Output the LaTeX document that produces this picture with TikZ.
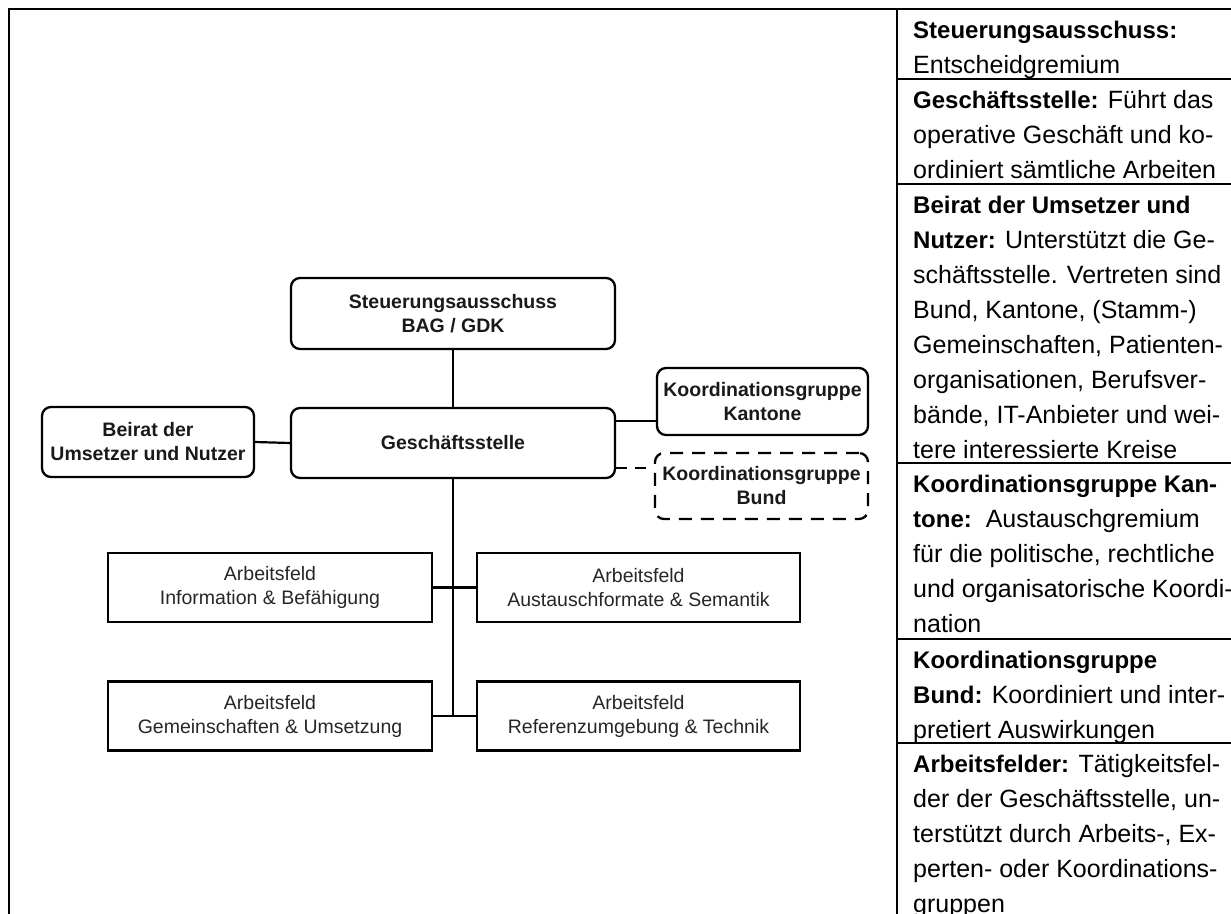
\documentclass[tikz,border=0pt]{standalone}
\usepackage{fontspec}
\setmainfont{Liberation Sans}
\newcommand\hb[1]{{\fontsize{24bp}{35bp}\selectfont\bfseries #1}}
\begin{document}
\begin{tikzpicture}[x=1bp,y=-1bp,
 rbox/.style={draw=black, line width=2.3bp, rounded corners=9bp, inner sep=0pt, align=center,
   font=\fontsize{19.5bp}{24bp}\selectfont\bfseries, text=black!90},
 dbox/.style={rbox, dash pattern=on 13bp off 9bp},
 abox/.style={draw=black, line width=2.3bp, inner sep=0pt, align=center,
   font=\fontsize{19.5bp}{24bp}\selectfont, text=black!85},
 conn/.style={line width=2.2bp},
 dconn/.style={conn, dash pattern=on 11bp off 8bp},
 frame/.style={line width=2bp},
 rowline/.style={line width=1.6bp},
 tline/.style={anchor=base west, inner sep=0pt, font=\fontsize{25bp}{35bp}\selectfont}]
\useasboundingbox (0,0) rectangle (1231,914);
% table frame
\draw[frame] (9,914) -- (9,9) -- (1231,9);
\draw[frame] (897,9) -- (897,914);
\foreach \yy in {79,184,463,639,743} \draw[rowline] (897,\yy) -- (1231,\yy);
% diagram nodes
\node[rbox, minimum width=324bp, minimum height=71bp] (sa) at (453,313.5) {Steuerungsausschuss\\BAG / GDK};
\node[rbox, minimum width=324bp, minimum height=70bp] (gs) at (453,443) {Geschäftsstelle};
\node[rbox, minimum width=212bp, minimum height=70bp] (br) at (148,442) {Beirat der\\Umsetzer und Nutzer};
\node[rbox, minimum width=211bp, minimum height=67bp] (kk) at (762.5,401.5) {Koordinationsgruppe\\Kantone};
\node[dbox, minimum width=213bp, minimum height=66bp] (kb) at (761.5,486) {Koordinationsgruppe\\Bund};
\node[abox, minimum width=324bp, minimum height=69bp] (a1) at (270,587.5) {Arbeitsfeld\\Information \& Befähigung};
\node[abox, minimum width=323bp, minimum height=69bp] (a2) at (638.5,587.5) {Arbeitsfeld\\Austauschformate \& Semantik};
\node[abox, minimum width=324bp, minimum height=69bp] (a3) at (270,716) {Arbeitsfeld\\Gemeinschaften \& Umsetzung};
\node[abox, minimum width=323bp, minimum height=69bp] (a4) at (638.5,716) {Arbeitsfeld\\Referenzumgebung \& Technik};
% helper coordinates
\coordinate (yk) at (0,421);
\coordinate (yb) at (0,468);
% connectors
\draw[conn] (sa.south) -- (gs.north);
\draw[conn] (br.east) -- (gs.west);
\draw[conn] (gs.east |- yk) -- (kk.west |- yk);
\draw[dconn] (gs.east |- yb) -- (kb.west |- yb);
\draw[conn] (gs.south) -- (gs.south |- a3.east);
\draw[conn] (a1.east) -- (a2.west);
\draw[conn] (a3.east) -- (a4.west);
% right column text
\node[tline] (t1a) at (913,38) {\hb{Steuerungsausschuss:}};
\node[tline] (t1b) at (913,73) {Entscheidgremium};
\node[tline] (t2a) at (913,108) {\hb{Geschäftsstelle:} Führt das};
\node[tline] (t2b) at (913,143) {operative Geschäft und ko-};
\node[tline] (t2c) at (913,178) {ordiniert sämtliche Arbeiten};
\node[tline] (t3a) at (913,213) {\hb{Beirat der Umsetzer und}};
\node[tline] (t3b) at (913,248) {\hb{Nutzer:} Unterstützt die Ge-};
\node[tline] (t3c) at (913,283) {schäftsstelle. Vertreten sind};
\node[tline] (t3d) at (913,318) {Bund, Kantone, (Stamm-)};
\node[tline] (t3e) at (913,353) {Gemeinschaften, Patienten-};
\node[tline] (t3f) at (913,388) {organisationen, Berufsver-};
\node[tline] (t3g) at (913,423) {bände, IT-Anbieter und wei-};
\node[tline] (t3h) at (913,458) {tere interessierte Kreise};
\node[tline] (t4a) at (913,492) {\hb{Koordinationsgruppe Kan-}};
\node[tline] (t4b) at (913,527) {\hb{tone:}\ \ Austauschgremium};
\node[tline] (t4c) at (913,562) {für die politische, rechtliche};
\node[tline] (t4d) at (913,597) {und organisatorische Koordi-};
\node[tline] (t4e) at (913,632) {nation};
\node[tline] (t5a) at (913,668) {\hb{Koordinationsgruppe}};
\node[tline] (t5b) at (913,703) {\hb{Bund:} Koordiniert und inter-};
\node[tline] (t5c) at (913,738) {pretiert Auswirkungen};
\node[tline] (t6a) at (913,772) {\hb{Arbeitsfelder:} Tätigkeitsfel-};
\node[tline] (t6b) at (913,807) {der der Geschäftsstelle, un-};
\node[tline] (t6c) at (913,842) {terstützt durch Arbeits-, Ex-};
\node[tline] (t6d) at (913,877) {perten- oder Koordinations-};
\node[tline] (t6e) at (913,912) {gruppen};
\end{tikzpicture}
\end{document}
